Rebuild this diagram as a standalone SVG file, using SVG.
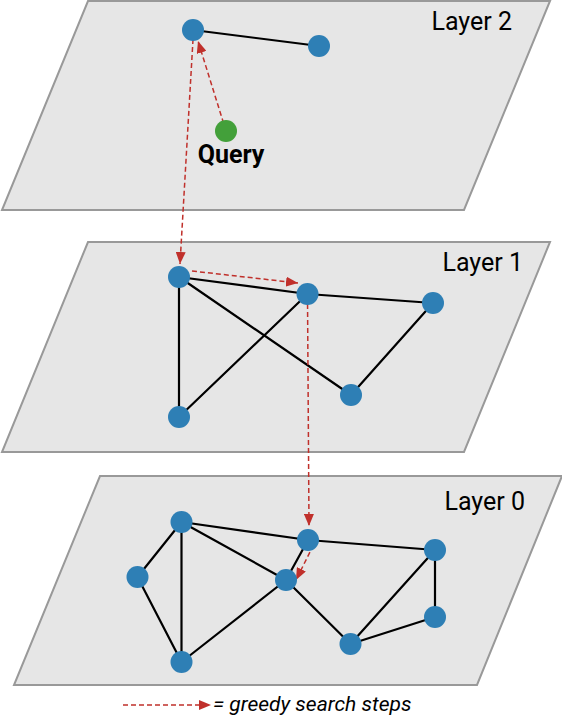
<svg xmlns="http://www.w3.org/2000/svg" width="562" height="717" viewBox="0 0 562 717">
<defs>
<style>
.plane{fill:#e6e6e6;stroke:#999;stroke-width:2}
.node{fill:#2e7fb5}
.query{fill:#43a03a}
.edge{stroke:#000;stroke-width:2.2;fill:none;stroke-linecap:round}
.step{stroke:#c0302b;stroke-width:1.5;stroke-dasharray:5,3;fill:none}
.lbl{font-family:Roboto,"Liberation Sans",sans-serif;font-size:25px;fill:#000}
.ql{font-family:Roboto,"Liberation Sans",sans-serif;font-size:25px;font-weight:bold;fill:#000}
.leg{font-family:Roboto,"Liberation Sans",sans-serif;font-size:21px;font-style:italic;fill:#000}
</style>
<marker id="ah" viewBox="0 0 12 10" refX="12" refY="5" markerWidth="12" markerHeight="10" markerUnits="userSpaceOnUse" orient="auto">
<path d="M0,0 L12,5 L0,10 z" fill="#c0302b"/>
</marker>
</defs>
<g id="layer2">
<polygon class="plane" points="88,1 550,1 464,210 2,210"/>
<text class="lbl" x="512" y="30" text-anchor="end">Layer 2</text>
</g>
<g id="layer1">
<polygon class="plane" points="88,242 550,242 464,452 2,452"/>
<text class="lbl" x="523" y="271" text-anchor="end">Layer 1</text>
</g>
<g id="layer0">
<polygon class="plane" points="100,476 562,476 477,685 14,685"/>
<text class="lbl" x="525" y="510" text-anchor="end">Layer 0</text>
</g>
<g id="connectors">
<line class="edge" x1="193" y1="30" x2="319" y2="46"/>
<line class="edge" x1="179" y1="277" x2="307.5" y2="294"/>
<line class="edge" x1="307.5" y1="294" x2="433" y2="303"/>
<line class="edge" x1="179" y1="277" x2="179" y2="417"/>
<line class="edge" x1="179" y1="277" x2="351" y2="395"/>
<line class="edge" x1="351" y1="395" x2="433" y2="303"/>
<line class="edge" x1="179" y1="417" x2="307.5" y2="294"/>
<line class="edge" x1="181.5" y1="522" x2="137.5" y2="577"/>
<line class="edge" x1="137.5" y1="577" x2="181.5" y2="662"/>
<line class="edge" x1="181.5" y1="522" x2="181.5" y2="662"/>
<line class="edge" x1="181.5" y1="522" x2="308" y2="540"/>
<line class="edge" x1="308" y1="540" x2="435" y2="550"/>
<line class="edge" x1="181.5" y1="522" x2="286" y2="580"/>
<line class="edge" x1="286" y1="580" x2="350.5" y2="644"/>
<line class="edge" x1="181.5" y1="662" x2="286" y2="580"/>
<line class="edge" x1="286" y1="580" x2="308" y2="540"/>
<line class="edge" x1="350.5" y1="644" x2="435" y2="550"/>
<line class="edge" x1="350.5" y1="644" x2="435" y2="617"/>
<line class="edge" x1="435" y1="617" x2="435" y2="550"/>
<line class="step" x1="226" y1="131" x2="198" y2="41" marker-end="url(#ah)"/>
<line class="step" x1="193.5" y1="31" x2="180" y2="264" marker-end="url(#ah)"/>
<line class="step" x1="192" y1="271" x2="298" y2="283" marker-end="url(#ah)"/>
<line class="step" x1="307.5" y1="296" x2="309" y2="526" marker-end="url(#ah)"/>
<line class="step" x1="313.5" y1="545" x2="296" y2="580" marker-end="url(#ah)"/>
</g>
<g id="n2a"><circle class="node" cx="193" cy="30" r="11"/></g>
<g id="n2b"><circle class="node" cx="319" cy="46" r="11"/></g>
<g id="query"><circle class="query" cx="226" cy="131" r="11"/><text class="ql" x="231" y="163" text-anchor="middle">Query</text></g>
<g id="n1a"><circle class="node" cx="179" cy="277" r="11"/></g>
<g id="n1b"><circle class="node" cx="307.5" cy="294" r="11"/></g>
<g id="n1c"><circle class="node" cx="433" cy="303" r="11"/></g>
<g id="n1d"><circle class="node" cx="351" cy="395" r="11"/></g>
<g id="n1e"><circle class="node" cx="179" cy="417" r="11"/></g>
<g id="n0a"><circle class="node" cx="181.5" cy="522" r="11"/></g>
<g id="n0b"><circle class="node" cx="137.5" cy="577" r="11"/></g>
<g id="n0c"><circle class="node" cx="181.5" cy="662" r="11"/></g>
<g id="n0d"><circle class="node" cx="308" cy="540" r="11"/></g>
<g id="n0e"><circle class="node" cx="286" cy="580" r="11"/></g>
<g id="n0f"><circle class="node" cx="435" cy="550" r="11"/></g>
<g id="n0g"><circle class="node" cx="350.5" cy="644" r="11"/></g>
<g id="n0h"><circle class="node" cx="435" cy="617" r="11"/></g>
<g id="legend">
<line class="step" x1="123" y1="705" x2="211" y2="705" marker-end="url(#ah)"/>
<text class="leg" x="213" y="711">= greedy search steps</text>
</g>
</svg>
